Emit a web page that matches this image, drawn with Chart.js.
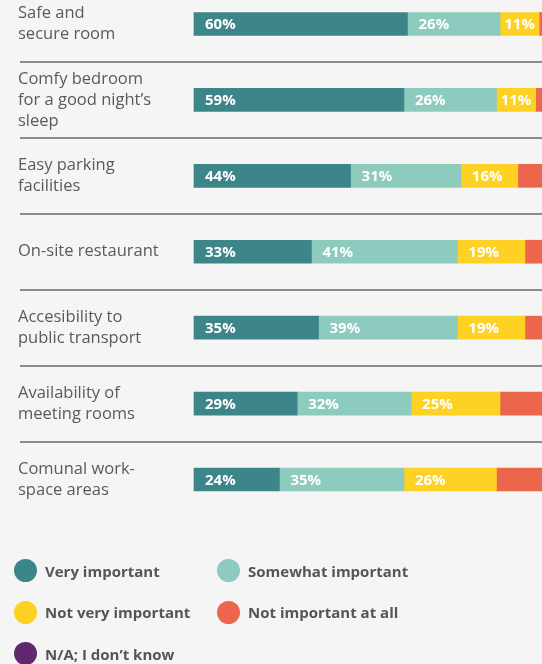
<!DOCTYPE html>
<html>
<head>
<meta charset="utf-8">
<script src="https://cdn.jsdelivr.net/npm/chart.js@4/dist/chart.umd.min.js"></script>
<style>
  body { margin: 0; background: #f5f5f5; font-family: "Open Sans", sans-serif; }
  #wrap { position: relative; width: 542px; height: 664px; overflow: hidden; }
  #legend {
    position: absolute; left: 14px; top: 559px;
    display: grid; grid-template-columns: 203px auto; row-gap: 18.5px;
  }
  .item { display: flex; align-items: center; height: 23px; }
  .dot { width: 23px; height: 23px; border-radius: 50%; margin-right: 8px; }
  .txt { font-weight: 700; font-size: 15px; color: #555; }
</style>
</head>
<body>
<div id="wrap">
  <canvas id="chart" width="542" height="664"></canvas>
  <div id="legend"></div>
</div>
<script>
const categories = [
    ['Safe and', 'secure room'],
    ['Comfy bedroom', 'for a good night\u2019s', 'sleep'],
    ['Easy parking', 'facilities'],
    'On-site restaurant',
    ['Accesibility to', 'public transport'],
    ['Availability of', 'meeting rooms'],
    ['Comunal work-', 'space areas']
];
const seriesNames = ['Very important', 'Somewhat important', 'Not very important', 'Not important at all', 'N/A; I don\u2019t know'];
const veryImportant = [60, 59, 44, 33, 35, 29, 24];
const somewhatImportant = [26, 26, 31, 41, 39, 32, 35];
const notVeryImportant = [11, 11, 16, 19, 19, 25, 26];
const notImportantAtAll = [2, 3, 8, 6, 6, 12, 13];
const dontKnow = [1, 1, 1, 1, 1, 2, 2];
const colors = ['#3c868a', '#8ccbbe', '#fed125', '#ec664d', '#60286e'];

const seriesData = [veryImportant, somewhatImportant, notVeryImportant, notImportantAtAll, dontKnow];

// white % labels inside the first three segments
const barLabels = {
    id: 'barLabels',
    afterDatasetsDraw(chart) {
        const ctx = chart.ctx;
        ctx.save();
        ctx.font = 'bold 15px "Open Sans", sans-serif';
        ctx.fillStyle = '#ffffff';
        ctx.textBaseline = 'middle';
        ctx.textAlign = 'left';
        for (let d = 0; d < 3; d++) {
            const meta = chart.getDatasetMeta(d);
            meta.data.forEach((bar, i) => {
                const text = chart.data.datasets[d].data[i] + '%';
                const w = ctx.measureText(text).width;
                const x = Math.min(bar.base + 11, (bar.base + bar.x) / 2 - w / 2);
                ctx.fillText(text, x, bar.y + 1);
            });
        }
        ctx.restore();
    }
};

const chart = new Chart(document.getElementById('chart').getContext('2d'), {
    type: 'bar',
    data: {
        labels: categories,
        datasets: seriesData.map((vals, i) => ({
            label: seriesNames[i],
            data: vals,
            backgroundColor: colors[i],
            borderWidth: 0,
            barThickness: 23,
            clip: false
        }))
    },
    options: {
        responsive: false,
        animation: false,
        indexAxis: 'y',
        layout: { padding: { top: 23, left: 18, right: 0, bottom: 184.5 } },
        scales: {
            x: {
                stacked: true,
                display: false,
                min: 0,
                max: 97.8
            },
            y: {
                stacked: true,
                offset: false,
                border: { display: false },
                grid: {
                    offset: true,
                    color: '#8c8c8c',
                    lineWidth: 2,
                    tickLength: 174,
                    drawOnChartArea: true
                },
                ticks: {
                    autoSkip: false,
                    crossAlign: 'far',
                    color: '#5a5a5a',
                    font: { family: '"Open Sans", sans-serif', size: 16.5, lineHeight: 1.27 }
                },
                afterFit(scale) { scale.width = 176; }
            }
        },
        plugins: {
            legend: { display: false },
            tooltip: { enabled: false }
        }
    },
    plugins: [barLabels]
});

// html legend in two columns, built from the datasets
const legendEl = document.getElementById('legend');
chart.data.datasets.forEach(ds => {
    const item = document.createElement('div');
    item.className = 'item';
    const dot = document.createElement('span');
    dot.className = 'dot';
    dot.style.background = ds.backgroundColor;
    const txt = document.createElement('span');
    txt.className = 'txt';
    txt.textContent = ds.label;
    item.appendChild(dot);
    item.appendChild(txt);
    legendEl.appendChild(item);
});
</script>
</body>
</html>
